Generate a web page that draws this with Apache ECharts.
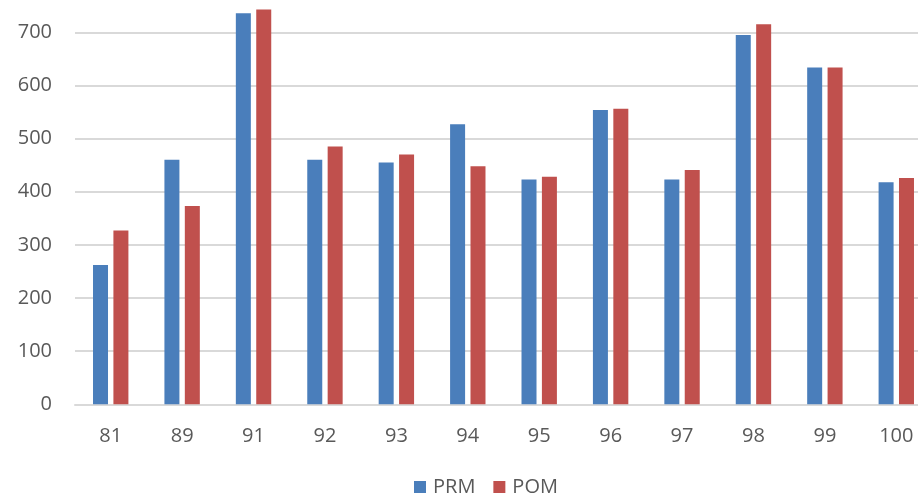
<!DOCTYPE html>
<html>
<head>
<meta charset="utf-8">
<script src="https://cdn.jsdelivr.net/npm/echarts@6/dist/echarts.min.js"></script>
<style>
  html, body { margin: 0; padding: 0; background: #ffffff; }
  #chart { width: 918px; height: 497px; }
</style>
</head>
<body>
<div id="chart"></div>
<script>
// Category labels along the x axis
const categories = ['81', '89', '91', '92', '93', '94', '95', '96', '97', '98', '99', '100'];

// Series values
const prmValues = [262, 460, 736, 460, 455, 527, 423, 554, 423, 695, 634, 418];
const pomValues = [327, 373, 743, 485, 470, 448, 428, 556, 441, 715, 634, 426];

// Value axis range and step
const yMin = 0;
const yMax = 800;
const yStep = 100;

const textColor = '#595959';
const gridColor = '#d9d9d9';
const fontFamily = '"Open Sans", "Liberation Sans", sans-serif';

const chart = echarts.init(document.getElementById('chart'), null, { renderer: 'canvas' });

chart.setOption({
  animation: false,
  backgroundColor: '#ffffff',
  grid: {
    left: 75,
    right: -14,
    top: -20.8,
    bottom: 92.7,
    containLabel: false,
    outerBoundsMode: 'none'
  },
  legend: {
    data: ['PRM', 'POM'],
    left: 409,
    top: 472,
    icon: 'rect',
    itemWidth: 12,
    itemHeight: 12,
    itemGap: 18,
    textStyle: { color: textColor, fontSize: 20, fontFamily: fontFamily, padding: [0, 0, 0, 2] }
  },
  xAxis: {
    type: 'category',
    data: categories,
    axisLine: { show: true, lineStyle: { color: gridColor, width: 2 } },
    axisTick: { show: false },
    axisLabel: { color: textColor, fontSize: 20, fontFamily: fontFamily, margin: 22 }
  },
  yAxis: {
    type: 'value',
    min: yMin,
    max: yMax,
    interval: yStep,
    axisLine: { show: false },
    axisTick: { show: false },
    axisLabel: { color: textColor, fontSize: 20, fontFamily: fontFamily, margin: 23 },
    splitLine: { show: true, lineStyle: { color: gridColor, width: 2 } }
  },
  series: [
    {
      name: 'PRM',
      type: 'bar',
      data: prmValues,
      barWidth: 15,
      barGap: '36%',
      itemStyle: { color: '#4a7ebb' }
    },
    {
      name: 'POM',
      type: 'bar',
      data: pomValues,
      barWidth: 15,
      barGap: '36%',
      itemStyle: { color: '#c0504d' }
    }
  ]
});
</script>
</body>
</html>
